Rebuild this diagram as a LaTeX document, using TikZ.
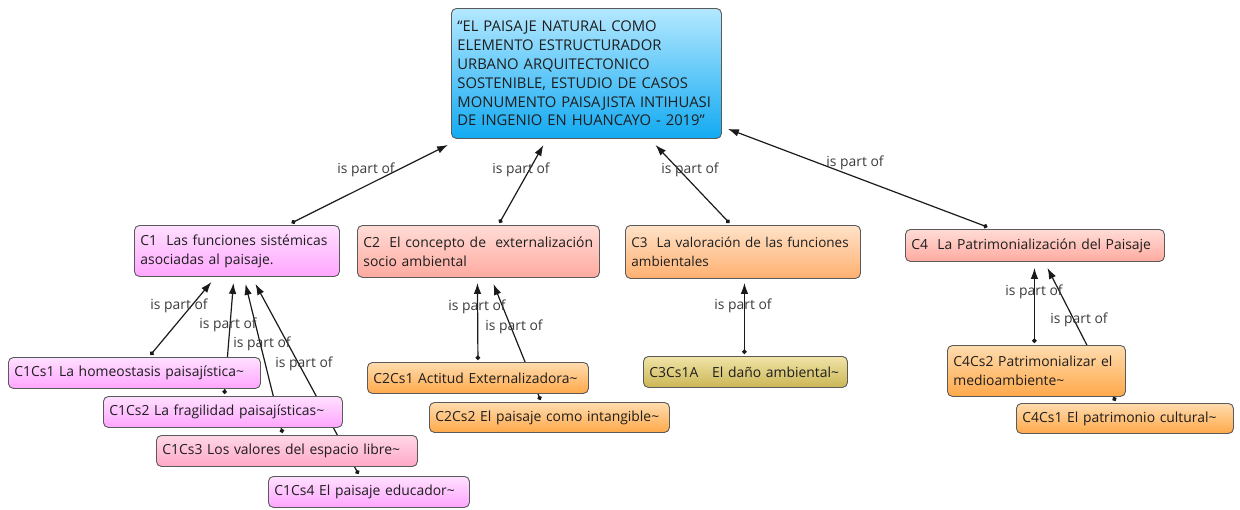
\documentclass[tikz,border=0pt]{standalone}
\usepackage{fontspec}
\setmainfont{Open Sans}
\usetikzlibrary{arrows.meta}
\definecolor{boxline}{HTML}{5A5A5A}
\definecolor{txt}{HTML}{1E1E1E}
\definecolor{lbltxt}{HTML}{3C3C3C}
\definecolor{conncol}{HTML}{1A1A1A}
\definecolor{rootT}{HTML}{B4E8FF}
\definecolor{rootB}{HTML}{12AAF2}
\definecolor{pinkT}{HTML}{FFE0FF}
\definecolor{pinkB}{HTML}{FFA6FF}
\definecolor{pinkbT}{HTML}{FFD6E6}
\definecolor{pinkbB}{HTML}{FFA8C8}
\definecolor{salT}{HTML}{FFDCD6}
\definecolor{salB}{HTML}{FFAAA0}
\definecolor{peachT}{HTML}{FFE2C8}
\definecolor{peachB}{HTML}{FFB070}
\definecolor{orT}{HTML}{FFDCAE}
\definecolor{orB}{HTML}{FFA94A}
\definecolor{oliveT}{HTML}{F0E4A8}
\definecolor{oliveB}{HTML}{CBB655}
\pgfdeclarelayer{bg}
\pgfsetlayers{bg,main}
\begin{document}
\begin{tikzpicture}[x=1pt,y=-1pt,
  cbox/.style={draw=boxline, line width=0.9pt, rounded corners=5pt, anchor=north west,
    align=left, inner xsep=6pt, inner ysep=0pt, text=txt,
    font=\fontsize{13.9}{19}\selectfont},
  rootfill/.style={top color=rootT, bottom color=rootB},
  pinkfill/.style={top color=pinkT, bottom color=pinkB},
  pinkbfill/.style={top color=pinkbT, bottom color=pinkbB},
  salfill/.style={top color=salT, bottom color=salB},
  peachfill/.style={top color=peachT, bottom color=peachB},
  orfill/.style={top color=orT, bottom color=orB},
  olivefill/.style={top color=oliveT, bottom color=oliveB},
  conn/.style={draw=conncol, line width=1.2pt, {Circle[length=4.5pt]}-{Latex[length=11pt,width=7.5pt]}},
  lbl/.style={text=lbltxt, font=\fontsize{13.9}{16}\selectfont, inner sep=0pt}
]
\useasboundingbox (0,0) rectangle (1240,509);

% ---------- boxes ----------
\node[cbox, rootfill, text width=258pt, minimum height=130pt, font=\fontsize{14.8}{18.9}\selectfont] (root) at (451,8)
  {``EL PAISAJE NATURAL COMO\\ELEMENTO ESTRUCTURADOR\\URBANO ARQUITECTONICO\\SOSTENIBLE, ESTUDIO DE CASOS\\MONUMENTO PAISAJISTA INTIHUASI\\DE INGENIO EN HUANCAYO - 2019"};
\node[cbox, pinkfill, text width=193pt, minimum height=51pt] (c1) at (134,225)
  {C1\ \ Las funciones sistémicas\\asociadas al paisaje.};
\node[cbox, salfill, text width=230pt, minimum height=52pt] (c2) at (357,225)
  {C2\ \ El concepto de\ \ externalización\\socio ambiental};
\node[cbox, peachfill, text width=223pt, minimum height=53pt, font=\fontsize{13.5}{19}\selectfont] (c3) at (625,225)
  {\mbox{C3\ \ La valoración de las funciones}\\ambientales};
\node[cbox, salfill, text width=247pt, minimum height=32pt] (c4) at (905,229)
  {C4\ \ La Patrimonialización del Paisaje};

\node[cbox, pinkfill, text width=240pt, minimum height=31pt] (c1s1) at (8,357)
  {C1Cs1 La homeostasis paisajística\textasciitilde};
\node[cbox, pinkfill, text width=227pt, minimum height=31pt] (c1s2) at (103,396)
  {C1Cs2 La fragilidad paisajísticas\textasciitilde};
\node[cbox, pinkbfill, text width=249pt, minimum height=31pt] (c1s3) at (156,435)
  {C1Cs3 Los valores del espacio libre\textasciitilde};
\node[cbox, pinkfill, text width=189pt, minimum height=31pt] (c1s4) at (268,476)
  {C1Cs4 El paisaje educador\textasciitilde};

\node[cbox, orfill, text width=209pt, minimum height=31pt] (c2s1) at (367,362)
  {C2Cs1 Actitud Externalizadora\textasciitilde};
\node[cbox, orfill, text width=228pt, minimum height=30pt] (c2s2) at (429,402)
  {C2Cs2 El paisaje como intangible\textasciitilde};

\node[cbox, olivefill, text width=192pt, minimum height=31pt] (c3s1) at (643,356)
  {C3Cs1A\ \ \ El daño ambiental\textasciitilde};

\node[cbox, orfill, text width=166pt, minimum height=51pt] (c4s2) at (947,345)
  {C4Cs2 Patrimonializar el\\medioambiente\textasciitilde};
\node[cbox, orfill, text width=205pt, minimum height=30pt] (c4s1) at (1016,403)
  {C4Cs1 El patrimonio cultural\textasciitilde};

% ---------- connectors (behind the boxes) ----------
\begin{pgfonlayer}{bg}
\draw[conn] ([xshift=54.5pt,yshift=2pt]c1.north) -- ([xshift=-3pt,yshift=-6pt]root.south west);
\draw[conn] ([xshift=21pt,yshift=2pt]c2.north) -- ([xshift=-43pt,yshift=-6pt]root.south);
\draw[conn] ([xshift=-13.5pt,yshift=2pt]c3.north) -- ([xshift=69pt,yshift=-6pt]root.south);
\draw[conn] ([xshift=-47.5pt,yshift=2pt]c4.north) -- ([xshift=6pt,yshift=10pt]root.south east);

\draw[conn] ([xshift=16pt,yshift=2pt]c1s1.north) -- ([xshift=-25.5pt,yshift=-5pt]c1.south);
\draw[conn] ([xshift=1.5pt,yshift=2pt]c1s2.north) -- ([xshift=-3.5pt,yshift=-6pt]c1.south);
\draw[conn] ([xshift=-4.5pt,yshift=2pt]c1s3.north) -- ([xshift=8.5pt,yshift=-7pt]c1.south);
\draw[conn] ([xshift=-10.5pt,yshift=2pt]c1s4.north) -- ([xshift=18.5pt,yshift=-7pt]c1.south);

\draw[conn] ([xshift=0pt,yshift=2pt]c2s1.north) -- ([xshift=-1pt,yshift=-5pt]c2.south);
\draw[conn] ([xshift=-9pt,yshift=2pt]c2s2.north) -- ([xshift=15pt,yshift=-6pt]c2.south);

\draw[conn] ([xshift=-1pt,yshift=2pt]c3s1.north) -- ([xshift=1.5pt,yshift=-4pt]c3.south);

\draw[conn] ([xshift=-2pt,yshift=2pt]c4s2.north) -- ([xshift=-0.5pt,yshift=-6pt]c4.south);
\draw[conn] ([xshift=-9.5pt,yshift=2pt]c4s1.north) -- ([xshift=12.5pt,yshift=-6pt]c4.south);
\end{pgfonlayer}

% ---------- link labels ----------
\node[lbl] (l1) at (366,170) {is part of};
\node[lbl] (l2) at (521,170) {is part of};
\node[lbl] (l3) at (690,170) {is part of};
\node[lbl] (l4) at (855,163) {is part of};

\node[lbl] (l5) at (179,306) {is part of};
\node[lbl] (l6) at (228,325) {is part of};
\node[lbl] (l7) at (262,344) {is part of};
\node[lbl] (l8) at (304,364) {is part of};

\node[lbl] (l9) at (477,307) {is part of};
\node[lbl] (l10) at (514,327) {is part of};

\node[lbl] (l11) at (743,306) {is part of};

\node[lbl] (l12) at (1034,292) {is part of};
\node[lbl] (l13) at (1079,320) {is part of};
\end{tikzpicture}
\end{document}
